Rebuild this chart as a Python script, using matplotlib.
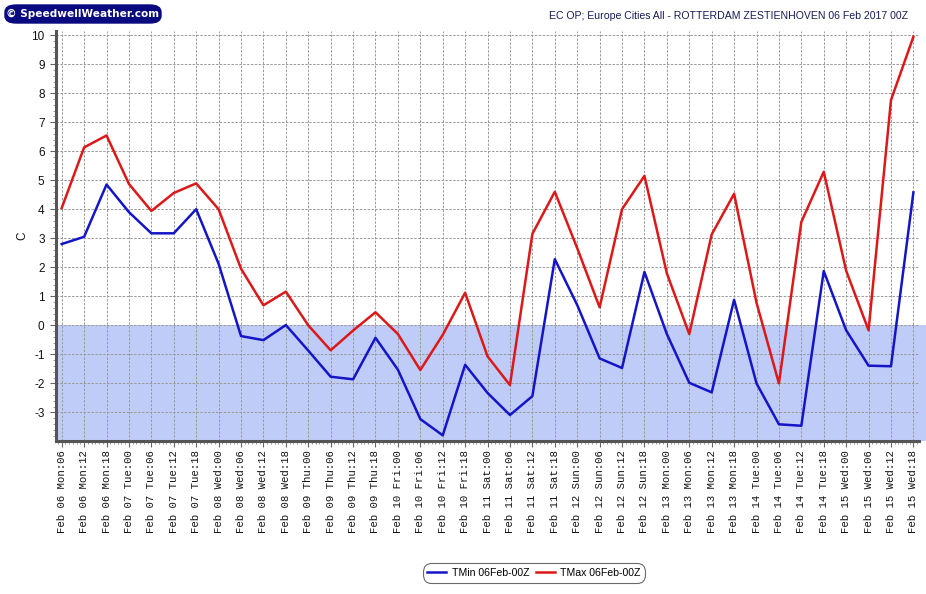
import matplotlib
matplotlib.use("Agg")
import matplotlib.pyplot as plt
from matplotlib.ticker import AutoMinorLocator, FixedLocator, MultipleLocator
from matplotlib.patches import FancyBboxPatch
import numpy as np

plt.rcParams["axes.unicode_minus"] = False

days = ["06", "07", "08", "09", "10", "11", "12", "13", "14", "15"]
wdays = ["Mon", "Tue", "Wed", "Thu", "Fri", "Sat", "Sun", "Mon", "Tue", "Wed"]
hours = ["00", "06", "12", "18"]
labels = []
for d, w in zip(days, wdays):
    for h in hours:
        labels.append(f"Feb {d} {w}:{h}")
labels = labels[1:]  # starts at Feb 06 Mon:06, ends at Feb 15 Wed:18

tmin = [2.8, 3.05, 4.85, 3.9, 3.17, 3.17, 4.0, 2.12, -0.37, -0.51,
        0.01, -0.87, -1.77, -1.86, -0.43, -1.53, -3.23, -3.79, -1.36, -2.33,
        -3.09, -2.44, 2.28, 0.7, -1.14, -1.47, 1.84, -0.3, -1.98, -2.31,
        0.88, -2.0, -3.41, -3.46, 1.87, -0.17, -1.39, -1.41, 4.58]
tmax = [4.04, 6.13, 6.54, 4.87, 3.94, 4.56, 4.89, 4.0, 1.95, 0.69,
        1.16, 0.0, -0.86, -0.18, 0.45, -0.3, -1.54, -0.33, 1.12, -1.07,
        -2.06, 3.15, 4.6, 2.66, 0.62, 4.0, 5.15, 1.79, -0.3, 3.13,
        4.53, 0.78, -2.0, 3.56, 5.29, 1.88, -0.17, 7.76, 9.94]

W, H = 926, 594
fig = plt.figure(figsize=(W / 100, H / 100), dpi=100)
ax = fig.add_axes([55.7 / W, 1 - 440.7 / H, (919 - 55.7) / W, (440.7 - 31) / H])

x = np.arange(len(labels))
ax.set_xlim(-0.268, 38.25)
ax.set_ylim(-3.975, 10.14)

ax.axhspan(-3.975, 0, xmin=0, xmax=(926 - 55.7) / (919 - 55.7),
           color="#c0ccf8", zorder=0, clip_on=False, lw=0)

ax.grid(True, which="major", color="#999999", linestyle=(0, (2.5, 1.5)), linewidth=0.7, zorder=1)

ax.plot(x, tmin, color="#1515c8", lw=1.8, label="TMin 06Feb-00Z", zorder=3)
ax.plot(x, tmax, color="#dd1818", lw=1.8, label="TMax 06Feb-00Z", zorder=3)

ax.xaxis.set_major_locator(FixedLocator(x))
ax.set_xticklabels(labels, rotation=90, family="Liberation Mono", fontsize=7.7)
ax.xaxis.set_minor_locator(AutoMinorLocator(6))
ax.yaxis.set_major_locator(MultipleLocator(1))
ax.yaxis.set_minor_locator(AutoMinorLocator(5))
for t in ax.get_yticklabels():
    t.set_family("Liberation Sans")
    t.set_fontsize(8.5)
ax.tick_params(axis="both", which="major", length=4, width=0.8, color="#666666", labelcolor="#111111")
ax.tick_params(axis="both", which="minor", length=2, width=0.6, color="#888888")
ax.tick_params(axis="y", pad=4)
ax.tick_params(axis="x", pad=3)

for s in ["top", "right"]:
    ax.spines[s].set_visible(False)
ax.spines["left"].set_color("#555555")
ax.spines["left"].set_linewidth(2.2)
ax.spines["bottom"].set_color("#555555")
ax.spines["bottom"].set_linewidth(2.2)
ax.set_facecolor("white")

fig.text(22 / W, 1 - 236 / H, "C", rotation=90, ha="center", va="center",
         family="Liberation Sans", fontsize=8.5, color="#111111")

fig.text(908 / W, 1 - 16 / H, "EC OP; Europe Cities All - ROTTERDAM ZESTIENHOVEN 06 Feb 2017 00Z",
         ha="right", va="center", family="Liberation Sans", fontsize=7.6, color="#1a1a5a")

# logo badge
badge = FancyBboxPatch((5 / W, 1 - 23 / H), (161 - 5) / W, (23 - 5) / H,
                       boxstyle="round,pad=0,rounding_size=0.012",
                       transform=fig.transFigure, facecolor="#0a0a80", edgecolor="#0a0a80")
fig.patches.append(badge)
fig.text(83 / W, 1 - 13.5 / H, "© SpeedwellWeather.com", ha="center", va="center",
         family="DejaVu Sans", fontweight="bold", fontsize=7.6, color="white")

leg = fig.legend(loc="center", bbox_to_anchor=(534 / W, 1 - 573 / H), ncol=2,
                 prop={"family": "Liberation Sans", "size": 7.6}, frameon=True,
                 fancybox=True, handlelength=1.8, columnspacing=0.6, handletextpad=0.5,
                 borderpad=0.25, edgecolor="#444444")
leg.get_frame().set_linewidth(0.8)
leg.get_frame().set_boxstyle("round,pad=0.2,rounding_size=0.8")

fig.savefig("out.png", dpi=100)
